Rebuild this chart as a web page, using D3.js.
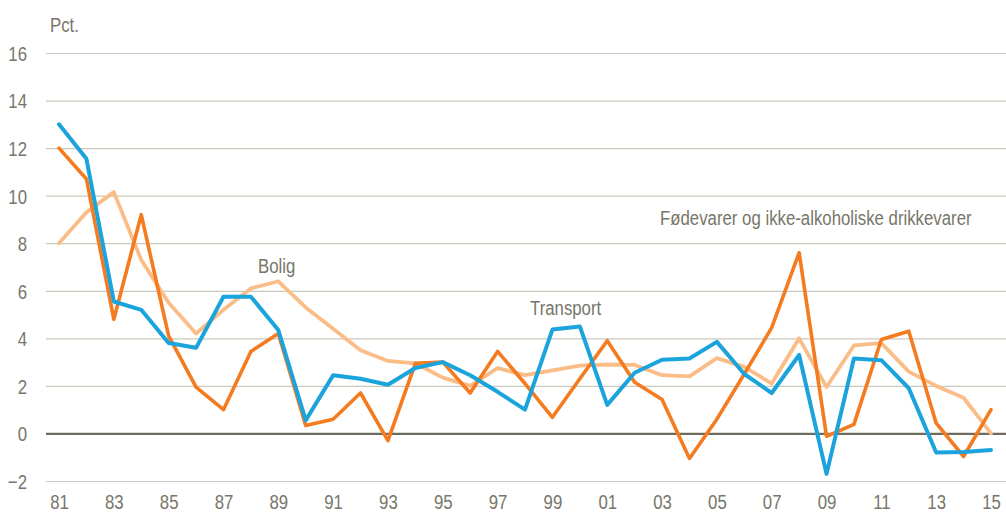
<!DOCTYPE html>
<html>
<head>
<meta charset="utf-8">
<script src="https://cdn.jsdelivr.net/npm/d3@7"></script>
<style>
  body { margin: 0; background: #fff; }
  text { font-family: "Liberation Sans", Arial, sans-serif; fill: #77766a; }
</style>
</head>
<body>
<svg id="chart" width="1006" height="515"></svg>
<script>
// years 1981-2015, annual change in pct.
const years = d3.range(1981, 2016);
const yTicks = [-2, 0, 2, 4, 6, 8, 10, 12, 14, 16];
const xTickYears = d3.range(1981, 2016, 2);

const foedevarer = [12.0, 10.7, 4.8, 9.2, 4.1, 1.95, 1.0, 3.45, 4.2, 0.33,
  0.6, 1.7, -0.3, 2.95, 3.0, 1.7, 3.45, 2.1, 0.68, 2.3,
  3.9, 2.15, 1.43, -1.05, 0.6, 2.5, 4.45, 7.6, -0.12, 0.38,
  3.95, 4.3, 0.43, -0.97, 1.0];
const bolig = [8.0, 9.3, 10.15, 7.3, 5.5, 4.2, 5.2, 6.1, 6.4, 5.3,
  4.4, 3.5, 3.05, 2.95, 2.35, 2.0, 2.75, 2.45, 2.65, 2.85,
  2.9, 2.88, 2.45, 2.4, 3.17, 2.8, 2.1, 4.0, 1.95, 3.7,
  3.8, 2.6, 2.0, 1.5, 0.0];
const transport = [13.0, 11.55, 5.55, 5.2, 3.8, 3.6, 5.75, 5.75, 4.35, 0.55,
  2.45, 2.3, 2.05, 2.75, 3.0, 2.45, 1.75, 1.0, 4.37, 4.5,
  1.2, 2.55, 3.1, 3.15, 3.85, 2.5, 1.7, 3.3, -1.7, 3.15,
  3.08, 1.9, -0.8, -0.78, -0.7];

const svg = d3.select("#chart");
const gridLeft = 46, gridRight = 1006;

const x = d3.scaleLinear().domain([1981, 2015]).range([59, 991]);
const y = d3.scaleLinear().domain([-2, 16]).range([481, 53]);

// squished text like the original narrow font
const squeeze = 0.8;

// y axis with gridlines
const yAxis = svg.append("g")
  .attr("transform", `translate(${gridLeft},0)`)
  .call(d3.axisLeft(y).tickValues(yTicks).tickSize(-(gridRight - gridLeft)).tickFormat(d3.format("d")));
yAxis.select(".domain").remove();
yAxis.selectAll(".tick line")
  .attr("stroke", d => d === 0 ? "#6d6b5b" : "#cbc9bd")
  .attr("stroke-width", d => d === 0 ? 2.2 : 1.2);
yAxis.selectAll(".tick text")
  .attr("x", 0).attr("dy", "0.35em")
  .attr("transform", `translate(-19,0) scale(${squeeze},1)`)
  .style("font-size", "21px")
  .style("fill", "#77766a");

// x axis labels
const xAxis = svg.append("g")
  .attr("transform", "translate(0,493)")
  .call(d3.axisBottom(x).tickValues(xTickYears).tickSize(0)
    .tickFormat(d => String(d % 100).padStart(2, "0")));
xAxis.select(".domain").remove();
xAxis.selectAll(".tick text")
  .attr("y", 0).attr("dy", "0.75em")
  .attr("transform", `scale(${squeeze},1)`)
  .style("font-size", "21px")
  .style("fill", "#77766a");

// lines
const line = d3.line().x((d, i) => x(years[i])).y(d => y(d));
const series = [
  { values: bolig, color: "#fbbd88", width: 3.8 },
  { values: foedevarer, color: "#f47b20", width: 3.6 },
  { values: transport, color: "#1ba3dc", width: 4 }
];
svg.selectAll("path.series").data(series).enter().append("path")
  .attr("class", "series")
  .attr("d", d => line(d.values))
  .attr("fill", "none")
  .attr("stroke", d => d.color)
  .attr("stroke-width", d => d.width)
  .attr("stroke-linejoin", "round")
  .attr("stroke-linecap", "round");

// labels
function label(txt, lx, ly) {
  svg.append("text")
    .attr("transform", `translate(${lx},${ly}) scale(${squeeze},1)`)
    .attr("dy", "0.35em")
    .style("font-size", "21px")
    .text(txt);
}
label("Pct.", 50, 25);
label("Bolig", 258, 266);
label("Transport", 530, 308);
label("Fødevarer og ikke-alkoholiske drikkevarer", 660, 218);
</script>
</body>
</html>
